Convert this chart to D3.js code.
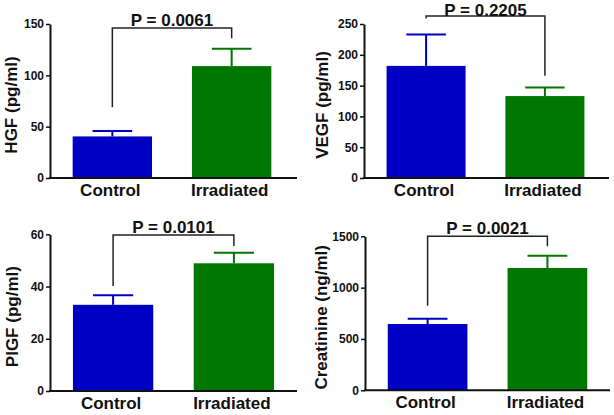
<!DOCTYPE html>
<html><head><meta charset="utf-8">
<script src="https://cdn.jsdelivr.net/npm/d3@7"></script>
<style>
html,body{margin:0;padding:0;background:#fff;}
svg{display:block;font-family:"Liberation Sans",Arial,sans-serif;}
</style></head>
<body><svg id="c" width="614" height="415"></svg>
<script>
// ---- data ----
const groups = ["Control", "Irradiated"];
const yLabels = ["HGF (pg/ml)", "VEGF (pg/ml)", "PIGF (pg/ml)", "Creatinine (ng/ml)"];
const hgfMean = [40.5, 109];
const hgfSem = [5.3, 17];
const vegfMean = [182, 133];
const vegfSem = [51, 14];
const pigfMean = [33, 48.9];
const pigfSem = [3.7, 4];
const creatMean = [646, 1191];
const creatSem = [51, 120];
const yMax = [150, 250, 60, 1500];
const yTickStep = [50, 50, 20, 500];
const pLabels = ["P = 0.0061", "P = 0.2205", "P = 0.0101", "P = 0.0021"];
// bracket: [top, left leg bottom, right leg bottom] in data units
const brackets = [[146, 69, 136], [263, 259, 166], [59.7, 40.2, 55.5], [1500, 824, 1403]];

const colors = ["#0000c4", "#007700"];

// layout per panel (pixels)
const layout = [
  {left: 50, right: 294, axisEnd: 297, top: 24, bottom: 178, labelX: 11},
  {left: 364, right: 607, axisEnd: 609, top: 24, bottom: 178, labelX: 322},
  {left: 50, right: 297, axisEnd: 297, top: 234.3, bottom: 391, labelX: 12},
  {left: 365, right: 610, axisEnd: 610, top: 236.3, bottom: 390.3, labelX: 321}
];

const means = [hgfMean, vegfMean, pigfMean, creatMean];
const sems = [hgfSem, vegfSem, pigfSem, creatSem];

const svg = d3.select("#c");

layout.forEach((L, i) => {
  const g = svg.append("g");
  const x = d3.scaleBand().domain(groups).range([L.left, L.right]).paddingInner(0.335).paddingOuter(0.19);
  const y = d3.scaleLinear().domain([0, yMax[i]]).range([L.bottom, L.top]);
  const data = groups.map((k, j) => ({k, m: means[i][j], s: sems[i][j], c: colors[j]}));

  // bars
  g.selectAll("rect.bar").data(data).enter().append("rect")
    .attr("x", d => x(d.k)).attr("width", x.bandwidth())
    .attr("y", d => y(d.m)).attr("height", d => y(0) - y(d.m))
    .attr("fill", d => d.c);

  // error bars
  const capW = x.bandwidth() * 0.5;
  data.forEach(d => {
    const cx = x(d.k) + x.bandwidth() / 2;
    g.append("line").attr("x1", cx).attr("x2", cx).attr("y1", y(d.m)).attr("y2", y(d.m + d.s))
      .attr("stroke", d.c).attr("stroke-width", 2);
    g.append("line").attr("x1", cx - capW / 2).attr("x2", cx + capW / 2).attr("y1", y(d.m + d.s)).attr("y2", y(d.m + d.s))
      .attr("stroke", d.c).attr("stroke-width", 2);
  });

  // y axis
  const ticks = d3.range(0, yMax[i] + 1e-9, yTickStep[i]);
  const ya = g.append("g").attr("transform", `translate(${L.left},0)`)
    .call(d3.axisLeft(y).tickValues(ticks).tickFormat(d3.format("d")).tickSize(4).tickPadding(2).tickSizeOuter(0));
  ya.select(".domain").attr("stroke", "#111").attr("stroke-width", 2);
  ya.selectAll(".tick line").attr("stroke", "#111").attr("stroke-width", 1.5);
  ya.selectAll(".tick text").attr("font-size", 12).attr("font-weight", "bold").attr("fill", "#111")
    .attr("font-family", "'Liberation Sans',Arial,sans-serif");

  // x axis line
  g.append("line").attr("x1", L.left - 1).attr("x2", L.axisEnd).attr("y1", L.bottom).attr("y2", L.bottom)
    .attr("stroke", "#111").attr("stroke-width", 2);
  // x labels
  g.selectAll("text.xl").data(groups).enter().append("text")
    .attr("x", d => x(d) + x.bandwidth() / 2 - 2).attr("y", L.bottom + 18)
    .attr("text-anchor", "middle").attr("font-size", 17).attr("font-weight", "bold").attr("fill", "#111")
    .text(d => d);

  // y label
  const cy = (L.top + L.bottom) / 2 + 4;
  g.append("text").attr("transform", `translate(${L.labelX + 6},${cy}) rotate(-90)`)
    .attr("text-anchor", "middle").attr("font-size", 17).attr("font-weight", "bold").attr("fill", "#111")
    .text(yLabels[i]);

  // bracket
  const b = brackets[i];
  const x1 = x(groups[0]) + x.bandwidth() / 2, x2 = x(groups[1]) + x.bandwidth() / 2;
  g.append("path").attr("d", `M${x1},${y(b[1])}V${y(b[0])}H${x2}V${y(b[2])}`)
    .attr("fill", "none").attr("stroke", "#222").attr("stroke-width", 1.5);
  g.append("text").attr("x", (x1 + x2) / 2).attr("y", Math.max(y(b[0]) - 2.5, 16))
    .attr("text-anchor", "middle").attr("font-size", 17).attr("font-weight", "bold").attr("fill", "#111")
    .text(pLabels[i]);
});
</script></body></html>
